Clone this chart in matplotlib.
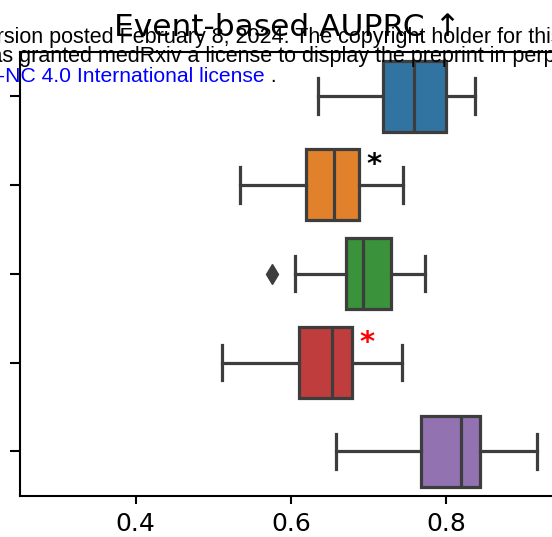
import matplotlib
matplotlib.use("Agg")
import matplotlib.pyplot as plt

# box statistics, top row first
whislo = [0.635, 0.535, 0.606, 0.511, 0.658]
q1 = [0.719, 0.619, 0.671, 0.611, 0.768]
med = [0.759, 0.655, 0.693, 0.653, 0.819]
q3 = [0.800, 0.688, 0.729, 0.679, 0.844]
whishi = [0.837, 0.745, 0.773, 0.743, 0.917]
fliers = [[], [], [0.576], [], []]
colors = ["#3274a1", "#e1812c", "#3a923a", "#c03d3e", "#9372b2"]

# rows with a significance star and its colour
star_rows = [1, 3]
star_colors = ["black", "red"]

line_col = "#3d3d3d"

stats = []
for i in range(len(med)):
    stats.append({
        "whislo": whislo[i], "q1": q1[i], "med": med[i],
        "q3": q3[i], "whishi": whishi[i], "fliers": fliers[i],
    })

fig = plt.figure(figsize=(5.52, 5.37), dpi=100)
ax = fig.add_axes([20 / 552, 41.3 / 537, 535 / 552, 444 / 537])

positions = list(range(len(med)))
bp = ax.bxp(stats, positions=positions, vert=False, widths=0.8,
            patch_artist=True, manage_ticks=False,
            boxprops=dict(edgecolor=line_col, linewidth=2.3),
            medianprops=dict(color=line_col, linewidth=2.3),
            whiskerprops=dict(color=line_col, linewidth=2.3),
            capprops=dict(color=line_col, linewidth=2.3),
            flierprops=dict(marker="d", markersize=10.5, markerfacecolor=line_col,
                            markeredgecolor=line_col))
for patch, c in zip(bp["boxes"], colors):
    patch.set_facecolor(c)

for row, c in zip(star_rows, star_colors):
    ax.text(q3[row] + 0.019, row - 0.22, "*", color=c, fontsize=21,
            fontweight="bold", ha="center", va="center")

ax.set_ylim(4.5, -0.5)
ax.set_xlim(0.2509, 0.9405)
ax.set_yticks(positions)
ax.set_yticklabels([])
ax.set_xticks([0.4, 0.6, 0.8])
ax.set_xticklabels(["0.4", "0.6", "0.8"])
ax.tick_params(axis="x", labelsize=18, length=6, width=1.5, pad=6)
ax.tick_params(axis="y", length=7, width=1.5)
for sp in ax.spines.values():
    sp.set_linewidth(1.5)

ax.set_title("Event-based AUPRC ↑", fontsize=22.5, pad=11.5)

# medRxiv banner text that overlaps the top of the figure
wm = dict(family="Liberation Sans", fontsize=15.5, va="baseline", ha="left")
fig.text(-26.4 / 552, 494.3 / 537,
         "version posted February 8, 2024. The copyright holder for this preprint",
         color="black", **wm)
fig.text(-24.5 / 552, 475 / 537,
         "was granted medRxiv a license to display the preprint in perpetuity.",
         color="black", **wm)
wm["fontsize"] = 15.2
blue = fig.text(-2 / 552, 455 / 537, "-NC 4.0 International license",
                color="#0000ff", **wm)
fig.canvas.draw()
bb = blue.get_window_extent(fig.canvas.get_renderer())
fig.text(bb.x1 / 552, 455 / 537, " .", color="black", **wm)

fig.savefig("out.png", dpi=100)
